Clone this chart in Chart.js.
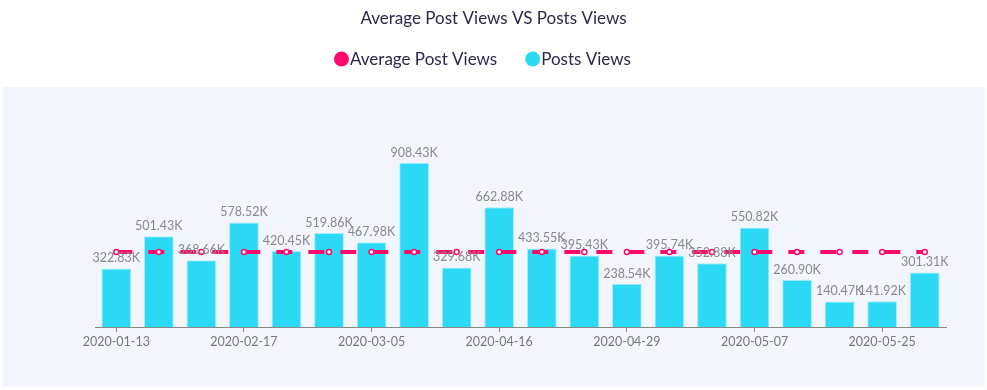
<!DOCTYPE html>
<html>
<head>
<meta charset="utf-8">
<script src="https://cdn.jsdelivr.net/npm/chart.js@4/dist/chart.umd.min.js"></script>
<style>
  html, body { margin: 0; padding: 0; background: #fff; }
  #wrap { position: relative; width: 987px; height: 390px; }
  #panel { position: absolute; left: 3px; top: 87px; width: 982px; height: 300px; background: #f2f5fc; }
  #c { position: absolute; left: 0; top: 0; }
</style>
</head>
<body>
<div id="wrap">
  <div id="panel"></div>
  <canvas id="c" width="987" height="390"></canvas>
</div>
<script>
// dates (only every third one is shown on the axis)
const dates = [
  "2020-01-13", "2020-01-27", "2020-02-05", "2020-02-17", "2020-02-21",
  "2020-02-28", "2020-03-05", "2020-03-16", "2020-04-02", "2020-04-16",
  "2020-04-20", "2020-04-24", "2020-04-29", "2020-05-01", "2020-05-04",
  "2020-05-07", "2020-05-12", "2020-05-18", "2020-05-25", "2020-05-29"
];
// views in thousands
const postViews = [
  322.83, 501.43, 368.66, 578.52, 420.45,
  519.86, 467.98, 908.43, 329.68, 662.88,
  433.55, 395.43, 238.54, 395.74, 352.88,
  550.82, 260.90, 140.47, 141.92, 301.31
];
const avgViews = [
  414.61, 414.61, 414.61, 414.61, 414.61,
  414.61, 414.61, 414.61, 414.61, 414.61,
  414.61, 414.61, 414.61, 414.61, 414.61,
  414.61, 414.61, 414.61, 414.61, 414.61
];
const titleText = 'Average Post Views VS Posts Views';
const seriesNames = ['Average Post Views', 'Posts Views'];

const PINK = '#ff0a6c';
const CYAN = '#2cd9f5';
const TEXT = '#2a2a48';
const FONT = 'Lato, "Open Sans", sans-serif';

// title + legend drawn centred on the whole canvas (the plot is not centred)
const header = {
  id: 'header',
  afterDraw(chart) {
    const ctx = chart.ctx;
    ctx.save();
    ctx.font = '17px ' + FONT;
    ctx.fillStyle = TEXT;
    ctx.textBaseline = 'middle';
    ctx.textAlign = 'center';
    ctx.fillText(titleText, chart.width / 2, 19);

    ctx.textAlign = 'left';
    const colors = [PINK, CYAN];
    const r = 7.5, gap = 28;
    let x = 334;
    seriesNames.forEach((name, i) => {
      ctx.fillStyle = colors[i];
      ctx.beginPath();
      ctx.arc(x + r, 59, r, 0, Math.PI * 2);
      ctx.fill();
      ctx.fillStyle = TEXT;
      ctx.fillText(name, x + 2 * r + 1, 60);
      x += 2 * r + 1 + ctx.measureText(name).width + gap;
    });
    ctx.restore();
  }
};

// value labels on top of bars
const barLabels = {
  id: 'barLabels',
  afterDatasetsDraw(chart) {
    const ctx = chart.ctx;
    const meta = chart.getDatasetMeta(1);
    ctx.save();
    ctx.font = '12.5px ' + FONT;
    ctx.fillStyle = '#888';
    ctx.textAlign = 'center';
    ctx.textBaseline = 'bottom';
    meta.data.forEach((bar, i) => {
      ctx.fillText(postViews[i].toFixed(2) + 'K', bar.x, bar.y - 4);
    });
    ctx.restore();
  }
};

new Chart(document.getElementById('c'), {
  data: {
    labels: dates,
    datasets: [
      {
        type: 'line', label: seriesNames[0], data: avgViews,
        borderColor: PINK, backgroundColor: PINK, borderWidth: 4,
        borderDash: [16, 16], fill: false, tension: 0,
        pointRadius: 2.5, pointBorderWidth: 1.5,
        pointBackgroundColor: '#fff', pointBorderColor: PINK
      },
      {
        type: 'bar', label: seriesNames[1], data: postViews,
        backgroundColor: CYAN, borderColor: '#a6eefa', borderWidth: 1,
        barPercentage: 0.7, categoryPercentage: 1
      }
    ]
  },
  options: {
    responsive: false, animation: false,
    layout: { padding: { left: 95, right: 41, top: 110, bottom: 39 } },
    plugins: {
      title: { display: false },
      legend: { display: false },
      tooltip: { enabled: false }
    },
    scales: {
      x: {
        grid: { offset: false, drawOnChartArea: false, drawTicks: true, tickLength: 5, color: '#888' },
        border: { color: '#888', width: 1 },
        ticks: {
          autoSkip: false, maxRotation: 0, color: '#777', padding: 2,
          font: { family: FONT, size: 12.5 },
          callback(v, i) { return i % 3 === 0 ? dates[i] : null; }
        }
      },
      y: { display: false, min: 0, max: 1200 }
    }
  },
  plugins: [barLabels, header]
});
</script>
</body>
</html>
